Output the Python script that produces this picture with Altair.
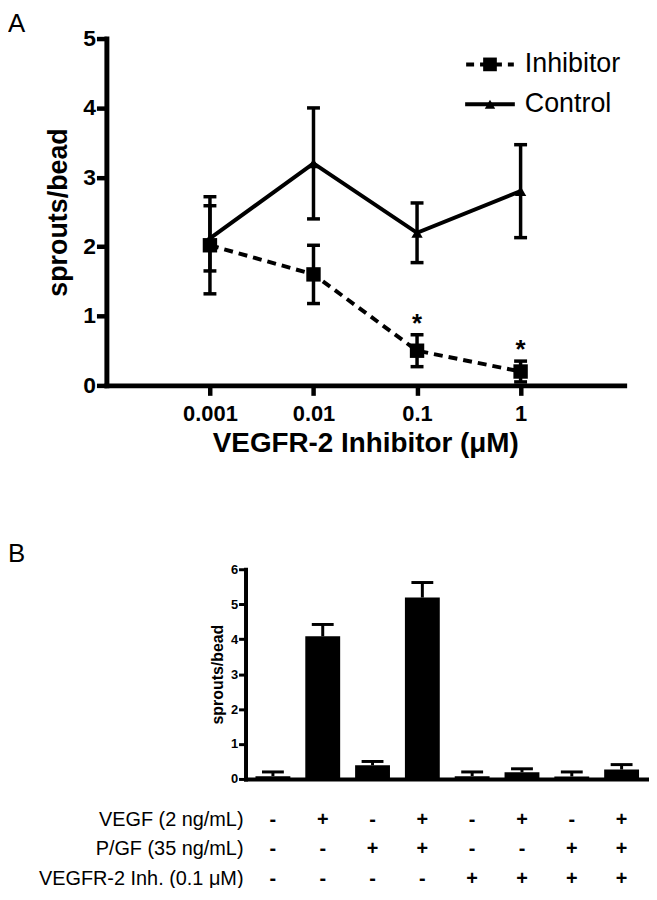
import altair as alt
import pandas as pd

FONT = "Liberation Sans"

# ---------------- Panel A data ----------------
conc = [0.001, 0.01, 0.1, 1]
inhibitor_mean = [2.02, 1.6, 0.5, 0.2]
inhibitor_err = [0.7, 0.42, 0.23, 0.15]
control_mean = [2.12, 3.2, 2.2, 2.8]
control_err = [0.47, 0.8, 0.43, 0.67]
star_conc = [0.1, 1]
legend_labels = ["Inhibitor", "Control"]

# ---------------- Panel B data ----------------
conditions = ["c1", "c2", "c3", "c4", "c5", "c6", "c7", "c8"]
sprouts = [0.08, 4.08, 0.39, 5.19, 0.08, 0.19, 0.07, 0.27]
sprouts_err = [0.12, 0.34, 0.11, 0.43, 0.12, 0.10, 0.13, 0.14]
row_labels = ["VEGF (2 ng/mL)", "P/GF (35 ng/mL)", "VEGFR-2 Inh. (0.1 μM)"]
vegf = ["-", "+", "-", "+", "-", "+", "-", "+"]
plgf = ["-", "-", "+", "+", "-", "-", "+", "+"]
inh = ["-", "-", "-", "-", "+", "+", "+", "+"]

# ---------------- tables ----------------
rows = []
for s, m, e in (("Inhibitor", inhibitor_mean, inhibitor_err), ("Control", control_mean, control_err)):
    for c, mv, ev in zip(conc, m, e):
        rows.append({"series": s, "conc": c, "mean": mv, "lo": mv - ev, "hi": mv + ev})
dfA = pd.DataFrame(rows)
dfInh = dfA[dfA.series == "Inhibitor"]
dfCtl = dfA[dfA.series == "Control"]
dfStar = dfInh[dfInh.conc.isin(star_conc)]

dfB = pd.DataFrame({"cond": conditions, "val": sprouts,
                    "hi": [v + e for v, e in zip(sprouts, sprouts_err)]})
trows = []
for lab, signs in zip(row_labels, (vegf, plgf, inh)):
    for c, sg in zip(conditions, signs):
        trows.append({"cond": c, "row": lab, "sign": sg})
dfT = pd.DataFrame(trows)
dfRows = pd.DataFrame({"row": row_labels})

# ---------------- Panel A ----------------
xA_scale = alt.Scale(type="log", domain=[1e-4, 10], range=[99, 620], nice=False)
xA_axis = alt.Axis(orient="bottom", offset=-503, values=conc, format="~g",
                   title="VEGFR-2 Inhibitor (μM)", tickSize=10, tickWidth=4.5, domainWidth=5,
                   labelFontSize=22, labelFontWeight="bold", labelPadding=8,
                   titleFontSize=28, titleFontWeight="bold", titlePadding=6)
yA_scale = alt.Scale(domain=[0, 5], range=[377, 28], nice=False, zero=False)
yA_axis = alt.Axis(orient="left", offset=-99, values=[0, 1, 2, 3, 4, 5], title="sprouts/bead",
                   tickSize=10, tickWidth=4.5, domainWidth=5,
                   labelFontSize=23, labelFontWeight="bold", labelPadding=1,
                   titleFontSize=27, titleFontWeight="bold", titlePadding=10)


def xA(f="conc"):
    return alt.X(f + ":Q", scale=xA_scale, axis=xA_axis)


def yA(f):
    return alt.Y(f + ":Q", scale=yA_scale, axis=yA_axis)


ctl_line = alt.Chart(dfCtl).mark_line(color="black", strokeWidth=4).encode(x=xA(), y=yA("mean"))
inh_line = alt.Chart(dfInh).mark_line(color="black", strokeWidth=4, strokeDash=[9, 6]).encode(x=xA(), y=yA("mean"))
err_rule = alt.Chart(dfA).mark_rule(color="black", strokeWidth=3.5).encode(
    x=xA(), y=yA("lo"), y2=alt.Y2("hi:Q"))
cap_lo = alt.Chart(dfA).mark_tick(color="black", orient="horizontal", size=13, thickness=3.5, opacity=1).encode(
    x=xA(), y=yA("lo"))
cap_hi = alt.Chart(dfA).mark_tick(color="black", orient="horizontal", size=13, thickness=3.5, opacity=1).encode(
    x=xA(), y=yA("hi"))
ctl_pts = alt.Chart(dfCtl).mark_point(shape="triangle-up", filled=True, size=130, color="black", opacity=1).encode(
    x=xA(), y=yA("mean"))
inh_pts = alt.Chart(dfInh).mark_point(shape="square", filled=True, size=210, color="black", opacity=1).encode(
    x=xA(), y=yA("mean"))
stars = alt.Chart(dfStar).mark_text(text="*", font=FONT, fontSize=26, fontWeight="bold",
                                    baseline="alphabetic", dy=-3, color="black").encode(x=xA(), y=yA("hi"))

# legend (layout positions only)
leg_df = pd.DataFrame({"label": legend_labels})
leg_inh_line = alt.Chart(leg_df.iloc[[0]]).mark_rule(color="black", strokeWidth=4, strokeDash=[8, 6]).encode(
    x=alt.value(461), x2=alt.value(509), y=alt.value(54))
leg_inh_pt = alt.Chart(leg_df.iloc[[0]]).mark_point(shape="square", filled=True, size=190, color="black", opacity=1).encode(
    x=alt.value(485), y=alt.value(54))
leg_ctl_line = alt.Chart(leg_df.iloc[[1]]).mark_rule(color="black", strokeWidth=4).encode(
    x=alt.value(460), x2=alt.value(510), y=alt.value(94))
leg_ctl_pt = alt.Chart(leg_df.iloc[[1]]).mark_point(shape="triangle-up", filled=True, size=110, color="black", opacity=1).encode(
    x=alt.value(485), y=alt.value(94))
leg_text = alt.Chart(leg_df).mark_text(font=FONT, fontSize=27, align="left", baseline="middle", color="black").encode(
    x=alt.value(520), y=alt.Y("label:N", scale=alt.Scale(domain=legend_labels, range=[54, 94], padding=0), axis=None),
    text="label:N")

panelA_data = alt.layer(ctl_line, inh_line, err_rule, cap_lo, cap_hi, ctl_pts, inh_pts, stars)
panelA_leg = alt.layer(leg_inh_line, leg_inh_pt, leg_ctl_line, leg_ctl_pt, leg_text)
panelA = alt.layer(panelA_data, panelA_leg).resolve_scale(y="independent")

# ---------------- Panel B ----------------
xB_scale = alt.Scale(domain=conditions, range=[239, 645], paddingInner=0.3, paddingOuter=0.2)
xB_axis = alt.Axis(orient="bottom", offset=-107, ticks=False, labels=False, title=None, domainWidth=4)
yB_scale = alt.Scale(domain=[0, 6], range=[773, 562], nice=False)
yB_axis = alt.Axis(orient="left", offset=-239, values=[0, 1, 2, 3, 4, 5, 6], title="sprouts/bead",
                   tickSize=7, tickWidth=3, domainWidth=4,
                   labelFontSize=13, labelFontWeight="bold", labelPadding=1,
                   titleFontSize=16, titleFontWeight="bold", titlePadding=5)


def xB():
    return alt.X("cond:N", sort=conditions, scale=xB_scale, axis=xB_axis)


barsB = alt.Chart(dfB).mark_bar(color="black").encode(x=xB(), y=alt.Y("val:Q", scale=yB_scale, axis=yB_axis))
errB = alt.Chart(dfB).mark_rule(color="black", strokeWidth=3).encode(
    x=xB(), y=alt.Y("val:Q", scale=yB_scale, axis=yB_axis), y2=alt.Y2("hi:Q"))
capB = alt.Chart(dfB).mark_tick(color="black", orient="horizontal", size=22, thickness=3, opacity=1).encode(
    x=xB(), y=alt.Y("hi:Q", scale=yB_scale, axis=yB_axis))

row_scale = alt.Scale(domain=row_labels, range=[814, 874], padding=0)
signs = alt.Chart(dfT).mark_text(font=FONT, fontSize=20, fontWeight="bold", baseline="middle", color="black").encode(
    x=xB(), y=alt.Y("row:N", scale=row_scale, axis=None), text="sign:N")
rowtext = alt.Chart(dfRows).mark_text(font=FONT, fontSize=20, align="right", baseline="middle", color="black").encode(
    x=alt.value(237), y=alt.Y("row:N", scale=row_scale, axis=None), text="row:N")

panelB = alt.layer(alt.layer(barsB, errB, capB), alt.layer(signs, rowtext)).resolve_scale(y="independent")

# panel letters
letters = pd.DataFrame({"t": ["A", "B"]})
letA = alt.Chart(letters.iloc[[0]]).mark_text(font=FONT, fontSize=26, align="left", baseline="top", color="black").encode(
    x=alt.value(0), y=alt.value(0), text="t:N")
letB = alt.Chart(letters.iloc[[1]]).mark_text(font=FONT, fontSize=26, align="left", baseline="top", color="black").encode(
    x=alt.value(0), y=alt.value(534), text="t:N")

chart = alt.layer(panelA, panelB, letA, letB).resolve_scale(x="independent", y="independent").properties(
    width=645, height=880, autosize=alt.AutoSizeParams(type="none"), padding=0
).configure_view(stroke=None).configure_axis(
    grid=False, domainColor="black", tickColor="black", labelColor="black", titleColor="black",
    labelFont=FONT, titleFont=FONT, domainCap="square")

chart.save("out.html", embed_options={"renderer": "svg", "actions": False})
